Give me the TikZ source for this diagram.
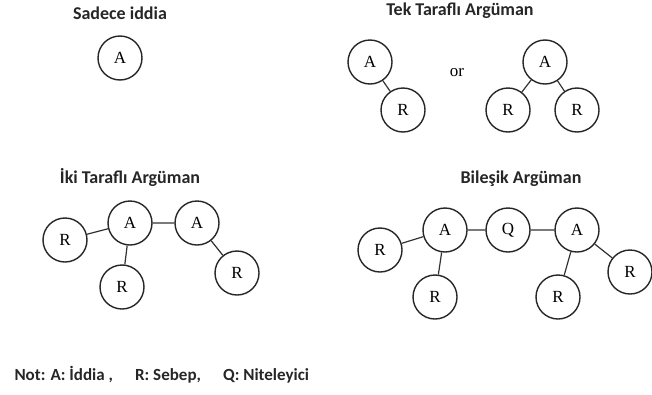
\documentclass[tikz,border=0pt]{standalone}
\usepackage{fontspec}
\setmainfont{Liberation Serif}
\newfontfamily\titlefont{Carlito}
\usepackage{tikz}
\usetikzlibrary{positioning}

\begin{document}
\begin{tikzpicture}[x=1pt,y=-1pt]

\tikzset{claim/.style={shape=circle,draw=black!85,line width=1.4pt,minimum size=44pt,inner sep=0pt,font=\fontsize{17}{17}\selectfont},
heading/.style={font=\titlefont\bfseries\fontsize{18}{18}\selectfont,text=black!85},
link/.style={draw=black!80,line width=1.2pt}}

\useasboundingbox (0,0) rectangle (652,394);

% Titles
\node[heading] (t1) at (120,13) {Sadece iddia};
\node[heading] (t2) at (460,11) {Tek Taraflı Argüman};
\node[heading] (t3) at (130,177) {İki Taraflı Argüman};
\node[heading] (t4) at (521,179) {Bileşik Argüman};

% Claim only
\node[claim] (a0) at (120,58) {A};

% One-sided argument
\node[claim] (a1) at (370,62) {A};
\node[claim] (r1) at (403,110) {R};
\node[font=\fontsize{17}{17}\selectfont] (or) at (457,73) {or};
\node[claim] (a2) at (545,62) {A};
\node[claim] (r2) at (508,110) {R};
\node[claim] (r3) at (577,110) {R};
\draw[link] (a1) -- (r1); \draw[link] (r2) -- (a2) -- (r3);

% Two-sided argument
\node[claim] (a3) at (130,223) {A};
\node[claim] (a4) at (197,223) {A};
\node[claim] (r4) at (65,240) {R};
\node[claim] (r5) at (122,287) {R};
\node[claim] (r6) at (237,273) {R};
\draw[link] (r4) -- (a3) -- (a4) -- (r6); \draw[link] (a3) -- (r5);

% Compound argument
\node[claim] (a5) at (445,230) {A};
\node[claim] (q1) at (508,230) {Q};
\node[claim] (a6) at (577,230) {A};
\node[claim] (r7) at (380,250) {R};
\node[claim] (r8) at (435,297) {R};
\node[claim] (r9) at (558,297) {R};
\node[claim] (r10) at (630,272) {R};
\draw[link] (r7) -- (a5) -- (q1) -- (a6) -- (r10);
\draw[link] (a5) -- (r8); \draw[link] (a6) -- (r9);

% Legend
\node[heading,anchor=west,font=\titlefont\bfseries\fontsize{17}{17}\selectfont] (note) at (11,375) {Not: A: İddia ,\hspace{1.3em}R: Sebep,\hspace{1.3em}Q: Niteleyici};

\end{tikzpicture}
\end{document}
